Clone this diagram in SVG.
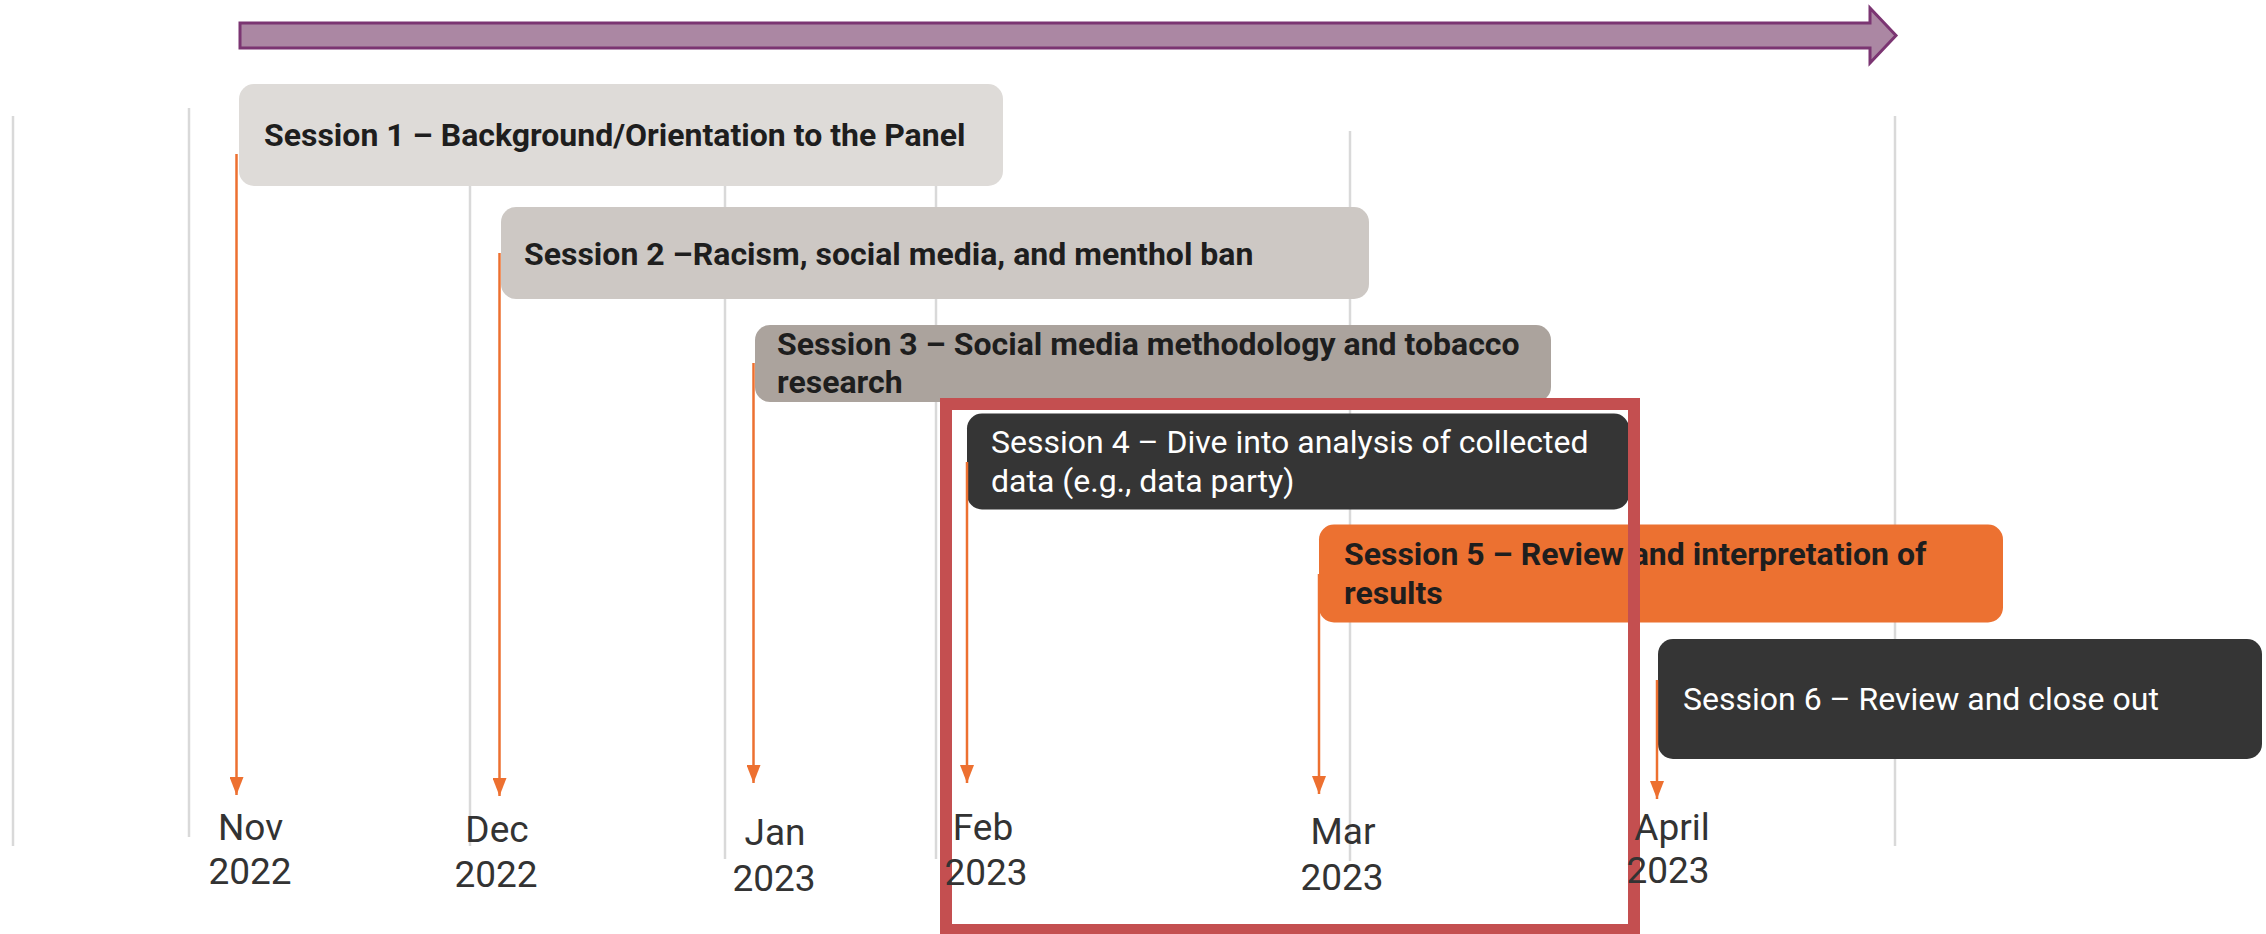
<svg xmlns="http://www.w3.org/2000/svg" width="2266" height="934" viewBox="0 0 2266 934">
  <style>
    .grid { stroke: #D9D9D9; stroke-width: 2.5; fill: none; }
    .box { stroke: none; }
    .bold { font-family: Roboto, "Liberation Sans", sans-serif; font-weight: bold; font-size: 32px; fill: #1E1E1E; }
    .reg { font-family: Roboto, "Liberation Sans", sans-serif; font-weight: normal; font-size: 32px; fill: #FFFFFF; }
    .conn { stroke: #ED7030; stroke-width: 2.5; fill: none; marker-end: url(#ah); }
    .month { font-family: Roboto, "Liberation Sans", sans-serif; font-size: 37px; fill: #333333; text-anchor: middle; }
  </style>
  <defs>
    <marker id="ah" markerUnits="userSpaceOnUse" markerWidth="18" markerHeight="14" refX="18" refY="7" orient="auto">
      <path d="M0,0 L18,7 L0,14 z" fill="#ED7030"/>
    </marker>
  </defs>
  <rect width="2266" height="934" fill="#FFFFFF"/>

  <g id="gridlines">
    <line class="grid" x1="13" y1="116" x2="13" y2="846"/>
    <line class="grid" x1="189" y1="108" x2="189" y2="837"/>
    <line class="grid" x1="470" y1="120" x2="470" y2="846"/>
    <line class="grid" x1="725" y1="120" x2="725" y2="859"/>
    <line class="grid" x1="936" y1="120" x2="936" y2="859"/>
    <line class="grid" x1="1350" y1="131" x2="1350" y2="861"/>
    <line class="grid" x1="1895" y1="116" x2="1895" y2="846"/>
  </g>

  <g id="timeline-arrow">
    <polygon points="240,23 1870,23 1870,8 1896,35.5 1870,63 1870,48 240,48" fill="#AB87A3" stroke="#7B3572" stroke-width="3" stroke-linejoin="miter"/>
  </g>

  <g id="session1">
    <rect class="box" x="239" y="84" width="764" height="102" rx="15" fill="#DEDBD8"/>
    <text class="bold" x="264" y="146">Session 1 – Background/Orientation to the Panel</text>
  </g>
  <g id="session2">
    <rect class="box" x="501" y="207" width="868" height="92" rx="15" fill="#CDC8C4"/>
    <text class="bold" x="524" y="265">Session 2 –Racism, social media, and menthol ban</text>
  </g>
  <g id="session3">
    <rect class="box" x="755" y="325" width="796" height="77" rx="15" fill="#ABA39D"/>
    <text class="bold" x="777" y="355">Session 3 – Social media methodology and tobacco</text>
    <text class="bold" x="777" y="393">research</text>
  </g>
  <g id="session4">
    <rect class="box" x="967" y="413.5" width="662" height="96" rx="15" fill="#353535"/>
    <text class="reg" x="991" y="453">Session 4 – Dive into analysis of collected</text>
    <text class="reg" x="991" y="492">data (e.g., data party)</text>
  </g>
  <g id="session5">
    <rect class="box" x="1319" y="524.5" width="684" height="98" rx="15" fill="#EC7131"/>
    <text class="bold" x="1344" y="565">Session 5 – Review and interpretation of</text>
    <text class="bold" x="1344" y="603.5">results</text>
  </g>
  <g id="session6">
    <rect class="box" x="1658" y="639" width="604" height="120" rx="15" fill="#353535"/>
    <text class="reg" x="1683" y="710">Session 6 – Review and close out</text>
  </g>

  <g id="connectors">
    <line class="conn" x1="236.5" y1="154" x2="236.5" y2="795"/>
    <line class="conn" x1="499.5" y1="253" x2="499.5" y2="796"/>
    <line class="conn" x1="753.5" y1="363" x2="753.5" y2="783"/>
    <line class="conn" x1="967" y1="462" x2="967" y2="783"/>
    <line class="conn" x1="1319" y1="574" x2="1319" y2="794"/>
    <line class="conn" x1="1657" y1="680" x2="1657" y2="799"/>
  </g>

  <g id="highlight">
    <rect x="946" y="404" width="688" height="526" fill="none" stroke="#C44F50" stroke-width="12"/>
  </g>

  <g id="labels">
    <text class="month" x="250.5" y="840">Nov</text>
    <text class="month" x="250" y="884">2022</text>
    <text class="month" x="497" y="842">Dec</text>
    <text class="month" x="496" y="887">2022</text>
    <text class="month" x="775" y="845">Jan</text>
    <text class="month" x="774" y="891">2023</text>
    <text class="month" x="983" y="840">Feb</text>
    <text class="month" x="986" y="885">2023</text>
    <text class="month" x="1343" y="844">Mar</text>
    <text class="month" x="1342" y="890">2023</text>
    <text class="month" x="1672" y="840">April</text>
    <text class="month" x="1668" y="883">2023</text>
  </g>
</svg>
